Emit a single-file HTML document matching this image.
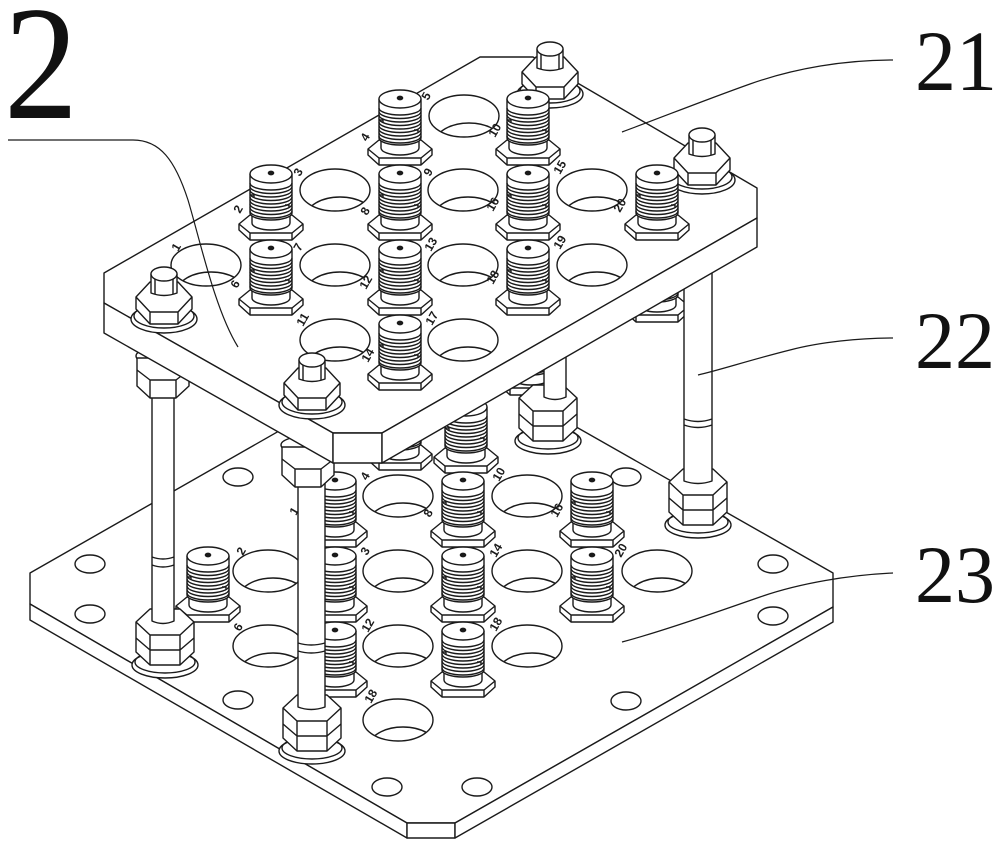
<!DOCTYPE html>
<html><head><meta charset="utf-8">
<style>html,body{margin:0;padding:0;background:#fff}svg{display:block}</style>
</head>
<body>
<svg width="1000" height="848" viewBox="0 0 1000 848" xmlns="http://www.w3.org/2000/svg">
<defs>
<clipPath id="hc"><ellipse cx="0" cy="0" rx="35" ry="21"/></clipPath>
<g id="hole"><ellipse cx="0" cy="0" rx="35" ry="21"/><ellipse cx="5" cy="27" rx="34" ry="20" fill="none" clip-path="url(#hc)"/></g>
<g id="sh"><ellipse cx="0" cy="0" rx="15" ry="9"/></g>
<g id="con">
  <path d="M-32,59 L-21,50 L21,50 L32,59 L32,65 L21,75 L-21,75 L-32,65 Z"/>
  <path d="M-32,59 L-21,68 L21,68 L32,59 M-21,68 V75 M21,68 V75" fill="none"/>
  <path d="M-19,46 V58 A19,7 0 0 0 19,58 V46 Z"/>
  <path d="M-21,9 V48 A21,7 0 0 0 21,48 V9 Z"/>
  <path d="M-21,18 a21,7 0 0 0 42,0 M-21,21.5 a21,7 0 0 0 42,0 M-21,25 a21,7 0 0 0 42,0 M-21,28.5 a21,7 0 0 0 42,0 M-21,32 a21,7 0 0 0 42,0 M-21,35.5 a21,7 0 0 0 42,0 M-21,39 a21,7 0 0 0 42,0 M-21,42.5 a21,7 0 0 0 42,0 M-21,46 a21,7 0 0 0 42,0" fill="none"/>
  <path d="M-21,30 h4 v3 M14,40 h4 v3" fill="none"/>
  <ellipse cx="0" cy="9" rx="21" ry="9"/>
  <ellipse cx="0" cy="8" rx="2.6" ry="1.7" fill="#1a1a1a"/>
</g>
<g id="bolt">
  <ellipse cx="0" cy="52" rx="33" ry="14"/>
  <ellipse cx="0" cy="49" rx="30" ry="12" fill="none"/>
  <path d="M-28,30 L-14,15 L14,15 L28,30 L28,42 L14,57 L-14,57 L-28,42 Z"/>
  <path d="M-28,30 L-14,45 L14,45 L28,30 M-14,45 V57 M14,45 V57" fill="none"/>
  <path d="M-13,7 V26 Q0,31 13,26 V7 Z"/>
  <ellipse cx="0" cy="7" rx="13" ry="7"/>
  <path d="M-9,12 V27 M9,12 V27" fill="none"/>
</g>
<g id="rnut">
  <ellipse cx="0" cy="58" rx="33" ry="13"/>
  <ellipse cx="0" cy="55" rx="30" ry="11" fill="none"/>
  <path d="M-29,15 L-15,2 L15,2 L29,15 L29,45 L15,58 L-15,58 L-29,45 Z"/>
  <path d="M-29,15 L-15,28 L15,28 L29,15 M-15,28 V58 M15,28 V58 M-29,31 L-15,43 L15,43 L29,31" fill="none"/>
</g>
<g id="unut">
  <ellipse cx="0" cy="8" rx="27" ry="9"/>
  <path d="M-26,10 L-26,38 L-13,50 L13,50 L26,38 L26,10 Z"/>
  <path d="M-26,22 L-13,32 L13,32 L26,22 M-13,32 V50 M13,32 V50" fill="none"/>
</g>
</defs>

<g stroke="#1a1a1a" stroke-width="1.4" stroke-linejoin="round" fill="#fff">

<!-- bottom plate 23 -->
<path d="M30,573 L407,358 L455,358 L833,573 L833,607 L455,823 L407,823 L30,604 Z"/>
<path d="M30,604 L407,823 L407,838 L30,620 Z"/>
<path d="M407,823 L455,823 L455,838 L407,838 Z"/>
<path d="M455,823 L833,607 L833,622 L455,838 Z"/>

<!-- small holes -->
<use href="#sh" x="238" y="477"/>
<use href="#sh" x="90" y="564"/>
<use href="#sh" x="90" y="614"/>
<use href="#sh" x="238" y="700"/>
<use href="#sh" x="387" y="787"/>
<use href="#sh" x="477" y="787"/>
<use href="#sh" x="626" y="701"/>
<use href="#sh" x="773" y="564"/>
<use href="#sh" x="773" y="616"/>
<use href="#sh" x="626" y="477"/>

<!-- big holes bottom -->
<use href="#hole" x="398" y="496"/>
<use href="#hole" x="527" y="496"/>
<use href="#hole" x="268" y="571"/>
<use href="#hole" x="398" y="571"/>
<use href="#hole" x="527" y="571"/>
<use href="#hole" x="657" y="571"/>
<use href="#hole" x="268" y="646"/>
<use href="#hole" x="398" y="646"/>
<use href="#hole" x="527" y="646"/>
<use href="#hole" x="398" y="720"/>

<g font-family="Liberation Sans, sans-serif" font-size="12" font-weight="bold" fill="#1a1a1a" stroke="none">
<text transform="translate(296,516) rotate(-60)">1</text>
<text transform="translate(243,556) rotate(-60)">2</text>
<text transform="translate(367,556) rotate(-60)">3</text>
<text transform="translate(367,481) rotate(-60)">4</text>
<text transform="translate(240,632) rotate(-60)">6</text>
<text transform="translate(430,518) rotate(-60)">8</text>
<text transform="translate(499,482) rotate(-60)">10</text>
<text transform="translate(368,633) rotate(-60)">12</text>
<text transform="translate(496,558) rotate(-60)">14</text>
<text transform="translate(557,518) rotate(-60)">16</text>
<text transform="translate(371,704) rotate(-60)">18</text>
<text transform="translate(496,632) rotate(-60)">18</text>
<text transform="translate(621,558) rotate(-60)">20</text>
</g>

<!-- hidden connectors under top plate -->
<use href="#con" x="657" y="247"/>
<use href="#con" x="531" y="320"/>
<use href="#con" x="400" y="395"/>
<use href="#con" x="466" y="398"/>

<!-- rod D -->
<use href="#rnut" x="548" y="383"/>
<path d="M544,350 V397 Q555,402 566,397 V350 Z"/>

<!-- bottom row 1 -->
<use href="#con" x="335" y="472"/>
<use href="#con" x="463" y="472"/>
<use href="#con" x="592" y="472"/>

<!-- rod C -->
<use href="#rnut" x="698" y="467"/>
<path d="M684,265 V481 Q698,486 712,481 V265 Z"/>
<path d="M684,419 Q698,424 712,419 M684,425 Q698,430 712,425" fill="none"/>

<!-- bottom row 2 -->
<use href="#con" x="208" y="547"/>
<use href="#con" x="335" y="547"/>
<use href="#con" x="463" y="547"/>
<use href="#con" x="592" y="547"/>

<!-- rod A -->
<use href="#rnut" x="165" y="607"/>
<path d="M152,380 V621 Q163,626 174,621 V380 Z"/>
<path d="M152,557 Q163,561 174,557 M152,565 Q163,569 174,565" fill="none"/>
<use href="#unut" x="163" y="348"/>

<!-- bottom row 3 -->
<use href="#con" x="335" y="622"/>
<use href="#con" x="463" y="622"/>

<!-- rod B -->
<use href="#rnut" x="312" y="693"/>
<path d="M298,470 V707 Q311,712 325,707 V470 Z"/>
<path d="M298,643 Q311,647 325,643 M298,651 Q311,655 325,651" fill="none"/>
<use href="#unut" x="308" y="437"/>

<!-- top plate 21 -->
<path d="M104,273 L480,57 L533,57 L757,188 L757,218 L382,433 L333,433 L104,303 Z"/>
<path d="M104,303 L333,433 L333,463 L104,333 Z"/>
<path d="M333,433 L382,433 L382,463 L333,463 Z"/>
<path d="M382,433 L757,218 L757,247 L382,463 Z"/>

<!-- top holes -->
<use href="#hole" x="464" y="116"/>
<use href="#hole" x="335" y="190"/>
<use href="#hole" x="463" y="190"/>
<use href="#hole" x="592" y="190"/>
<use href="#hole" x="206" y="265"/>
<use href="#hole" x="335" y="265"/>
<use href="#hole" x="463" y="265"/>
<use href="#hole" x="592" y="265"/>
<use href="#hole" x="335" y="340"/>
<use href="#hole" x="463" y="340"/>

<g font-family="Liberation Sans, sans-serif" font-size="12" font-weight="bold" fill="#1a1a1a" stroke="none">
<text transform="translate(178,252) rotate(-60)">1</text>
<text transform="translate(240,214) rotate(-60)">2</text>
<text transform="translate(300,177) rotate(-60)">3</text>
<text transform="translate(367,142) rotate(-60)">4</text>
<text transform="translate(428,101) rotate(-60)">5</text>
<text transform="translate(237,289) rotate(-60)">6</text>
<text transform="translate(300,252) rotate(-60)">7</text>
<text transform="translate(367,216) rotate(-60)">8</text>
<text transform="translate(430,177) rotate(-60)">9</text>
<text transform="translate(495,138) rotate(-60)">10</text>
<text transform="translate(303,327) rotate(-60)">11</text>
<text transform="translate(366,290) rotate(-60)">12</text>
<text transform="translate(431,252) rotate(-60)">13</text>
<text transform="translate(368,363) rotate(-60)">14</text>
<text transform="translate(560,175) rotate(-60)">15</text>
<text transform="translate(493,212) rotate(-60)">16</text>
<text transform="translate(432,326) rotate(-60)">17</text>
<text transform="translate(493,285) rotate(-60)">18</text>
<text transform="translate(560,250) rotate(-60)">19</text>
<text transform="translate(620,213) rotate(-60)">20</text>
</g>

<!-- top items in depth order -->
<use href="#bolt" x="550" y="42"/>
<use href="#con" x="400" y="90"/>
<use href="#con" x="528" y="90"/>
<use href="#bolt" x="702" y="128"/>
<use href="#con" x="271" y="165"/>
<use href="#con" x="400" y="165"/>
<use href="#con" x="528" y="165"/>
<use href="#con" x="657" y="165"/>
<use href="#con" x="271" y="240"/>
<use href="#con" x="400" y="240"/>
<use href="#con" x="528" y="240"/>
<use href="#bolt" x="164" y="267"/>
<use href="#con" x="400" y="315"/>
<use href="#bolt" x="312" y="353"/>

<!-- leaders -->
<g fill="none" stroke-width="1.2">
<path d="M8,140 H133 C160,140 175,160 188,200 C200,240 215,310 238,347"/>
<path d="M893,60 C845,60 795,68 750,84 C705,100 660,118 622,132"/>
<path d="M893,338 C860,338 820,342 790,350 C750,360 720,370 698,375"/>
<path d="M893,573 C850,575 800,583 760,597 C720,611 660,632 622,642"/>
</g>
</g>

<!-- labels -->
<g font-family="Liberation Serif, serif" fill="#111" stroke="none">
<text x="4" y="118" font-size="163" textLength="74" lengthAdjust="spacingAndGlyphs">2</text>
<text x="915" y="90" font-size="86" textLength="82" lengthAdjust="spacingAndGlyphs">21</text>
<text x="915" y="368" font-size="82" textLength="80" lengthAdjust="spacingAndGlyphs">22</text>
<text x="915" y="602" font-size="82" textLength="80" lengthAdjust="spacingAndGlyphs">23</text>
</g>
</svg>
</body></html>
